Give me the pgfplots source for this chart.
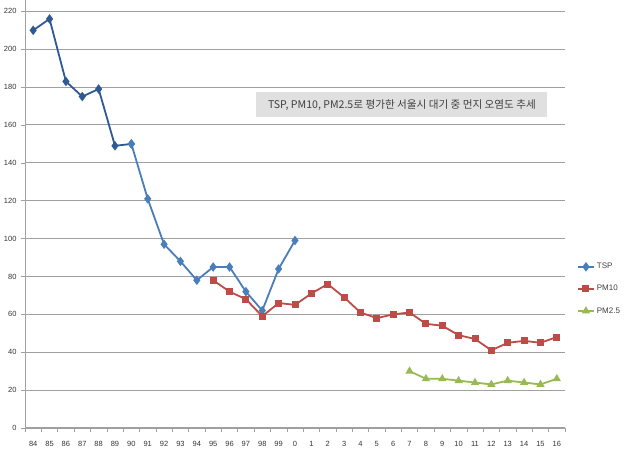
\documentclass[border=0pt]{standalone}
\usepackage{pgfplots}
\pgfplotsset{compat=1.18}
\usepackage{fontspec}
\setmainfont{Liberation Sans}
\newfontfamily\kr{Noto Sans CJK KR}
\definecolor{tspdark}{HTML}{2E5A93}
\definecolor{tsp}{HTML}{4A7EBB}
\definecolor{pmten}{HTML}{BE4B48}
\definecolor{pmtwo}{HTML}{98B954}
\definecolor{gridc}{HTML}{A0A0A0}
\begin{document}
\begin{tikzpicture}
\path[use as bounding box] (-25pt,-29pt) rectangle (605pt,428pt);
\begin{axis}[
  at={(0pt,0pt)}, anchor=south west,
  scale only axis, width=540pt, height=428pt,
  xmin=-0.5, xmax=32.5, ymin=0, ymax=226,
  axis x line*=bottom, axis y line*=left,
  axis line style={draw=gridc, line width=0.8pt},
  xtick={0,...,32},
  xticklabels={84,85,86,87,88,89,90,91,92,93,94,95,96,97,98,99,0,1,2,3,4,5,6,7,8,9,10,11,12,13,14,15,16},
  major x tick style={draw=none},
  minor xtick={-0.5,0.5,...,32.5},
  minor x tick style={draw=gridc, line width=0.6pt},
  minor tick length=4pt,
  ytick={0,20,...,220},
  ymajorgrids, major grid style={draw=gridc, line width=1pt},
  y tick style={draw=gridc, line width=0.6pt},
  major tick length=4pt,
  tick align=outside,
  /pgf/number format/assume math mode=true,
  tick label style={font=\fontsize{7.5}{9}\selectfont, text=black!80},
  xticklabel style={yshift=-6pt},
  yticklabel style={xshift=-1pt},
  clip=false,
  legend style={at={(1.022,0.325)}, anchor=west, draw=none, fill=none,
    font=\fontsize{8}{9}\selectfont, text=black!75, row sep=11pt,
    inner sep=0pt, cells={anchor=west}},
  legend cell align=left,
  legend image code/.code={\draw[#1] (0pt,0pt) -- (16pt,0pt); \draw[#1, only marks] plot coordinates {(8pt,0pt)};},
]
\addplot[tspdark, line width=1.8pt, mark=diamond*, mark size=3.3pt, forget plot]
  coordinates {(0,210)(1,216)(2,183)(3,175)(4,179)(5,149)(6,150)};
\addplot[tsp, line width=1.8pt, mark=diamond*, mark size=3.3pt]
  coordinates {(6,150)(7,121)(8,97)(9,88)(10,78)(11,85)(12,85)(13,72)(14,62)(15,84)(16,99)};
\addlegendentry{TSP}
\addplot[pmten, line width=1.8pt, mark=square*, mark size=2.6pt]
  coordinates {(11,78)(12,72)(13,68)(14,59)(15,66)(16,65)(17,71)(18,76)(19,69)(20,61)(21,58)(22,60)(23,61)(24,55)(25,54)(26,49)(27,47)(28,41)(29,45)(30,46)(31,45)(32,48)};
\addlegendentry{PM10}
\addplot[pmtwo, line width=1.8pt, mark=triangle*, mark size=3pt]
  coordinates {(23,30)(24,26)(25,26)(26,25)(27,24)(28,23)(29,25)(30,24)(31,23)(32,26)};
\addlegendentry{PM2.5}
\node[fill=black!12, minimum width=291pt, minimum height=25pt, inner sep=0pt,
  font=\kr\fontsize{10.6}{12}\selectfont, text=black!75]
  at (rel axis cs:0.698,0.755) {TSP, PM10, PM2.5로 평가한 서울시 대기 중 먼지 오염도 추세};
\end{axis}
\end{tikzpicture}
\end{document}
